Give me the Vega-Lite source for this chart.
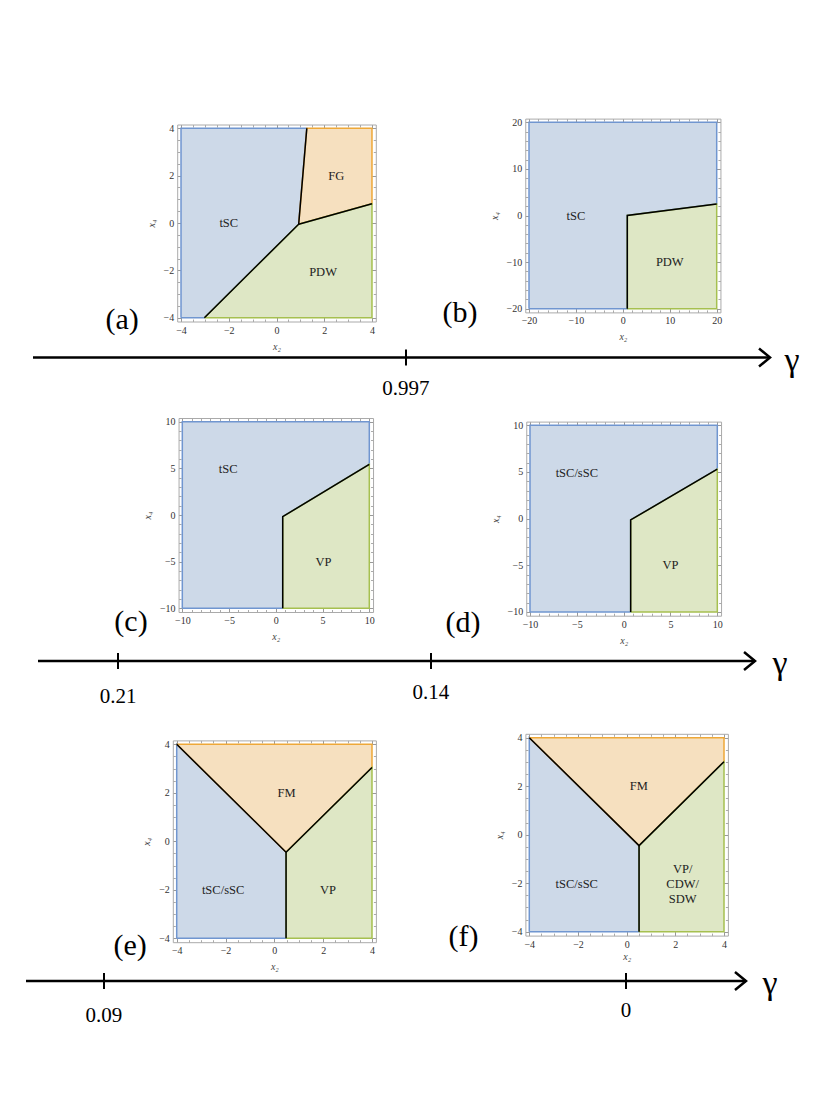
{
"$schema": "https://vega.github.io/schema/vega-lite/v6.json",
"width": 817, "height": 1117, "padding": 0, "autosize": {"type": "none"},
"background": "white",
"config": {"view": {"stroke": null}},
"datasets": {
"regions": [
{"p":"a","k":"blue","o":1,"x":-4,"y":-4},{"p":"a","k":"blue","o":2,"x":-4,"y":4},{"p":"a","k":"blue","o":3,"x":1.27,"y":4},{"p":"a","k":"blue","o":4,"x":0.93,"y":-0.05},{"p":"a","k":"blue","o":5,"x":-3.02,"y":-4},{"p":"a","k":"blue","o":6,"x":-4,"y":-4},
{"p":"a","k":"orange","o":1,"x":0.93,"y":-0.05},{"p":"a","k":"orange","o":2,"x":1.27,"y":4},{"p":"a","k":"orange","o":3,"x":4,"y":4},{"p":"a","k":"orange","o":4,"x":4,"y":0.81},{"p":"a","k":"orange","o":5,"x":0.93,"y":-0.05},
{"p":"a","k":"green","o":1,"x":-3.02,"y":-4},{"p":"a","k":"green","o":2,"x":0.93,"y":-0.05},{"p":"a","k":"green","o":3,"x":4,"y":0.81},{"p":"a","k":"green","o":4,"x":4,"y":-4},{"p":"a","k":"green","o":5,"x":-3.02,"y":-4},
{"p":"b","k":"blue","o":1,"x":-20,"y":-20},{"p":"b","k":"blue","o":2,"x":-20,"y":20},{"p":"b","k":"blue","o":3,"x":20,"y":20},{"p":"b","k":"blue","o":4,"x":20,"y":2.47},{"p":"b","k":"blue","o":5,"x":0.95,"y":0},{"p":"b","k":"blue","o":6,"x":0.95,"y":-20},{"p":"b","k":"blue","o":7,"x":-20,"y":-20},
{"p":"b","k":"green","o":1,"x":0.95,"y":-20},{"p":"b","k":"green","o":2,"x":0.95,"y":0},{"p":"b","k":"green","o":3,"x":20,"y":2.47},{"p":"b","k":"green","o":4,"x":20,"y":-20},{"p":"b","k":"green","o":5,"x":0.95,"y":-20},
{"p":"c","k":"blue","o":1,"x":-10,"y":-10},{"p":"c","k":"blue","o":2,"x":-10,"y":10},{"p":"c","k":"blue","o":3,"x":10,"y":10},{"p":"c","k":"blue","o":4,"x":10,"y":5.43},{"p":"c","k":"blue","o":5,"x":0.74,"y":-0.18},{"p":"c","k":"blue","o":6,"x":0.74,"y":-10},{"p":"c","k":"blue","o":7,"x":-10,"y":-10},
{"p":"c","k":"green","o":1,"x":0.74,"y":-10},{"p":"c","k":"green","o":2,"x":0.74,"y":-0.18},{"p":"c","k":"green","o":3,"x":10,"y":5.43},{"p":"c","k":"green","o":4,"x":10,"y":-10},{"p":"c","k":"green","o":5,"x":0.74,"y":-10},
{"p":"d","k":"blue","o":1,"x":-10,"y":-10},{"p":"d","k":"blue","o":2,"x":-10,"y":10},{"p":"d","k":"blue","o":3,"x":10,"y":10},{"p":"d","k":"blue","o":4,"x":10,"y":5.3},{"p":"d","k":"blue","o":5,"x":0.75,"y":-0.14},{"p":"d","k":"blue","o":6,"x":0.75,"y":-10},{"p":"d","k":"blue","o":7,"x":-10,"y":-10},
{"p":"d","k":"green","o":1,"x":0.75,"y":-10},{"p":"d","k":"green","o":2,"x":0.75,"y":-0.14},{"p":"d","k":"green","o":3,"x":10,"y":5.3},{"p":"d","k":"green","o":4,"x":10,"y":-10},{"p":"d","k":"green","o":5,"x":0.75,"y":-10},
{"p":"e","k":"blue","o":1,"x":-4,"y":-4},{"p":"e","k":"blue","o":2,"x":-4,"y":4},{"p":"e","k":"blue","o":3,"x":0.48,"y":-0.45},{"p":"e","k":"blue","o":4,"x":0.48,"y":-4},{"p":"e","k":"blue","o":5,"x":-4,"y":-4},
{"p":"e","k":"orange","o":1,"x":-4,"y":4},{"p":"e","k":"orange","o":2,"x":4,"y":4},{"p":"e","k":"orange","o":3,"x":4,"y":3.04},{"p":"e","k":"orange","o":4,"x":0.48,"y":-0.45},{"p":"e","k":"orange","o":5,"x":-4,"y":4},
{"p":"e","k":"green","o":1,"x":0.48,"y":-4},{"p":"e","k":"green","o":2,"x":0.48,"y":-0.45},{"p":"e","k":"green","o":3,"x":4,"y":3.04},{"p":"e","k":"green","o":4,"x":4,"y":-4},{"p":"e","k":"green","o":5,"x":0.48,"y":-4},
{"p":"f","k":"blue","o":1,"x":-4,"y":-4},{"p":"f","k":"blue","o":2,"x":-4,"y":4},{"p":"f","k":"blue","o":3,"x":0.51,"y":-0.45},{"p":"f","k":"blue","o":4,"x":0.51,"y":-4},{"p":"f","k":"blue","o":5,"x":-4,"y":-4},
{"p":"f","k":"orange","o":1,"x":-4,"y":4},{"p":"f","k":"orange","o":2,"x":4,"y":4},{"p":"f","k":"orange","o":3,"x":4,"y":3.01},{"p":"f","k":"orange","o":4,"x":0.51,"y":-0.45},{"p":"f","k":"orange","o":5,"x":-4,"y":4},
{"p":"f","k":"green","o":1,"x":0.51,"y":-4},{"p":"f","k":"green","o":2,"x":0.51,"y":-0.45},{"p":"f","k":"green","o":3,"x":4,"y":3.01},{"p":"f","k":"green","o":4,"x":4,"y":-4},{"p":"f","k":"green","o":5,"x":0.51,"y":-4}
],
"bounds": [
{"p":"a","s":1,"o":1,"x":1.27,"y":4},{"p":"a","s":1,"o":2,"x":0.93,"y":-0.05},{"p":"a","s":1,"o":3,"x":-3.02,"y":-4},{"p":"a","s":2,"o":1,"x":0.93,"y":-0.05},{"p":"a","s":2,"o":2,"x":4,"y":0.81},
{"p":"b","s":1,"o":1,"x":0.95,"y":-20},{"p":"b","s":1,"o":2,"x":0.95,"y":0},{"p":"b","s":1,"o":3,"x":20,"y":2.47},
{"p":"c","s":1,"o":1,"x":0.74,"y":-10},{"p":"c","s":1,"o":2,"x":0.74,"y":-0.18},{"p":"c","s":1,"o":3,"x":10,"y":5.43},
{"p":"d","s":1,"o":1,"x":0.75,"y":-10},{"p":"d","s":1,"o":2,"x":0.75,"y":-0.14},{"p":"d","s":1,"o":3,"x":10,"y":5.3},
{"p":"e","s":1,"o":1,"x":-4,"y":4},{"p":"e","s":1,"o":2,"x":0.48,"y":-0.45},{"p":"e","s":1,"o":3,"x":4,"y":3.04},{"p":"e","s":2,"o":1,"x":0.48,"y":-0.45},{"p":"e","s":2,"o":2,"x":0.48,"y":-4},
{"p":"f","s":1,"o":1,"x":-4,"y":4},{"p":"f","s":1,"o":2,"x":0.51,"y":-0.45},{"p":"f","s":1,"o":3,"x":4,"y":3.01},{"p":"f","s":2,"o":1,"x":0.51,"y":-0.45},{"p":"f","s":2,"o":2,"x":0.51,"y":-4}
],
"names": [
{"p":"a","t":"tSC","x":-2.0,"y":0.0},{"p":"a","t":"FG","x":2.5,"y":2.0},{"p":"a","t":"PDW","x":1.95,"y":-2.05},
{"p":"b","t":"tSC","x":-10,"y":0},{"p":"b","t":"PDW","x":10,"y":-10},
{"p":"c","t":"tSC","x":-5.1,"y":4.9},{"p":"c","t":"VP","x":5.1,"y":-5.0},
{"p":"d","t":"tSC/sSC","x":-5,"y":4.9},{"p":"d","t":"VP","x":5,"y":-5},
{"p":"e","t":"FM","x":0.5,"y":2},{"p":"e","t":"tSC/sSC","x":-2.1,"y":-2},{"p":"e","t":"VP","x":2.2,"y":-2},
{"p":"f","t":"FM","x":0.5,"y":2},{"p":"f","t":"tSC/sSC","x":-2.05,"y":-2.05},{"p":"f","t":"VP/","x":2.3,"y":-1.41},{"p":"f","t":"CDW/","x":2.3,"y":-2.05},{"p":"f","t":"SDW","x":2.3,"y":-2.65}
],
"tags": [
{"p":"a","t":"(a)","x":-6.47,"y":-4.1},{"p":"b","t":"(b)","x":-34.7,"y":-20.9},{"p":"c","t":"(c)","x":-15.49,"y":-11.47},
{"p":"d","t":"(d)","x":-17.15,"y":-11.18},{"p":"e","t":"(e)","x":-5.91,"y":-4.32},{"p":"f","t":"(f)","x":-6.7,"y":-4.22}
],
"arrowline": [
{"r":1,"g":"m","o":1,"x":0,"y":0},{"r":1,"g":"m","o":2,"x":1,"y":0},{"r":1,"g":"h","o":1,"x":0.9851,"y":1.125},{"r":1,"g":"h","o":2,"x":1,"y":0},{"r":1,"g":"h","o":3,"x":0.9851,"y":-1.125},
{"r":2,"g":"m","o":1,"x":0,"y":0},{"r":2,"g":"m","o":2,"x":1,"y":0},{"r":2,"g":"h","o":1,"x":0.9847,"y":1.125},{"r":2,"g":"h","o":2,"x":1,"y":0},{"r":2,"g":"h","o":3,"x":0.9847,"y":-1.125},
{"r":3,"g":"m","o":1,"x":0,"y":0},{"r":3,"g":"m","o":2,"x":1,"y":0},{"r":3,"g":"h","o":1,"x":0.9847,"y":1.125},{"r":3,"g":"h","o":2,"x":1,"y":0},{"r":3,"g":"h","o":3,"x":0.9847,"y":-1.125}
],
"ticks": [
{"r":1,"x":0.5061,"a":-1,"b":1},
{"r":2,"x":0.1116,"a":-1,"b":1},{"r":2,"x":0.5481,"a":-1,"b":1},
{"r":3,"x":0.1083,"a":-1,"b":1},{"r":3,"x":0.8333,"a":-1,"b":1}
],
"ticklabels": [
{"r":1,"t":"0.997","x":0.5061,"y":-3.94},
{"r":2,"t":"0.21","x":0.1116,"y":-4.5},{"r":2,"t":"0.14","x":0.5481,"y":-4.0},
{"r":3,"t":"0.09","x":0.1083,"y":-4.375},{"r":3,"t":"0","x":0.8333,"y":-3.75}
],
"gammas": [
{"r":1,"t":"γ","x":1.0299,"y":-0.45},{"r":2,"t":"γ","x":1.0349,"y":-0.4},{"r":3,"t":"γ","x":1.0333,"y":-0.4}
]
},
"layer": [
{
"layer": [
{"data":{"name":"regions"},"transform":[{"filter":"datum.p === 'a'"}],
"mark":{"type":"line","strokeWidth":1.5,"strokeJoin":"miter"},
"encoding":{
"x":{"field":"x","type":"quantitative","scale":{"domain":[-4.16,4.16],"range":[177.2,375.8],"nice":false,"zero":false},
"axis":{"orient":"bottom","offset":-795.5,"values":[-4,-2,0,2,4],"grid":false,"domainColor":"#aaaaaa","domainWidth":1,"tickColor":"#999999","tickSize":-4,"tickWidth":1,"labelFont":"Times New Roman, Liberation Serif, serif","labelFontSize":10,"labelColor":"#333333","labelPadding":7.5,"labelFlush":false,"labelOverlap":false,"labelBound":false,"title":"x₂","titleFont":"Times New Roman, Liberation Serif, serif","titleFontSize":10,"titleFontStyle":"italic","titleFontWeight":"normal","titleColor":"#444444","titlePadding":6}},
"y":{"field":"y","type":"quantitative","scale":{"domain":[-4.16,4.16],"range":[321.5,124.5],"nice":false,"zero":false},
"axis":{"orient":"left","offset":-177.2,"values":[-4,-2,0,2,4],"grid":false,"domainColor":"#aaaaaa","domainWidth":1,"tickColor":"#999999","tickSize":-4,"tickWidth":1,"labelFont":"Times New Roman, Liberation Serif, serif","labelFontSize":10,"labelColor":"#333333","labelPadding":7.5,"labelFlush":false,"labelOverlap":false,"labelBound":false,"title":"x₄","titleFont":"Times New Roman, Liberation Serif, serif","titleFontSize":10,"titleFontStyle":"italic","titleFontWeight":"normal","titleColor":"#444444","titlePadding":7}},
"order":{"field":"o","type":"quantitative"},"detail":{"field":"k"},
"fill":{"field":"k","type":"nominal","scale":{"domain":["blue","orange","green"],"range":["#cdd9e8","#f6e0bf","#dee7c5"]},"legend":null},
"stroke":{"field":"k","type":"nominal","scale":{"domain":["blue","orange","green"],"range":["#7096d0","#eea838","#a6c050"]},"legend":null}}},
{"data":{"name":"bounds"},"transform":[{"filter":"datum.p === 'a'"}],
"mark":{"type":"line","color":"black","strokeWidth":1.5},
"encoding":{
"x":{"field":"x","type":"quantitative","scale":{"domain":[-4.16,4.16],"range":[177.2,375.8],"nice":false,"zero":false},
"axis":{"orient":"top","offset":-124.5,"values":[-4,-2,0,2,4],"labels":false,"title":null,"grid":false,"domainColor":"#aaaaaa","tickColor":"#999999","tickSize":-4}},
"y":{"field":"y","type":"quantitative","scale":{"domain":[-4.16,4.16],"range":[321.5,124.5],"nice":false,"zero":false},
"axis":{"orient":"right","offset":-441.2,"values":[-4,-2,0,2,4],"labels":false,"title":null,"grid":false,"domainColor":"#aaaaaa","tickColor":"#999999","tickSize":-4}},
"order":{"field":"o","type":"quantitative"},"detail":{"field":"s"}}},
{"data":{"name":"names"},"transform":[{"filter":"datum.p === 'a'"}],
"mark":{"type":"text","font":"Times New Roman, Liberation Serif, serif","fontSize":12.5,"color":"#222222","align":"center","baseline":"middle"},
"encoding":{
"x":{"field":"x","type":"quantitative","scale":{"domain":[-4.16,4.16],"range":[177.2,375.8],"nice":false,"zero":false},
"axis":{"orient":"bottom","offset":-795.5,"values":[-3.5,-3,-2.5,-1.5,-1,-0.5,0.5,1,1.5,2.5,3,3.5],"labels":false,"domain":false,"title":null,"grid":false,"tickColor":"#aaaaaa","tickSize":-2.5}},
"y":{"field":"y","type":"quantitative","scale":{"domain":[-4.16,4.16],"range":[321.5,124.5],"nice":false,"zero":false},
"axis":{"orient":"left","offset":-177.2,"values":[-3.5,-3,-2.5,-1.5,-1,-0.5,0.5,1,1.5,2.5,3,3.5],"labels":false,"domain":false,"title":null,"grid":false,"tickColor":"#aaaaaa","tickSize":-2.5}},
"text":{"field":"t"}}},
{"data":{"name":"tags"},"transform":[{"filter":"datum.p === 'a'"}],
"mark":{"type":"text","font":"Times New Roman, Liberation Serif, serif","fontSize":30,"color":"black","align":"center","baseline":"middle"},
"encoding":{
"x":{"field":"x","type":"quantitative","scale":{"domain":[-4.16,4.16],"range":[177.2,375.8],"nice":false,"zero":false},
"axis":{"orient":"top","offset":-124.5,"values":[-3.5,-3,-2.5,-1.5,-1,-0.5,0.5,1,1.5,2.5,3,3.5],"labels":false,"domain":false,"title":null,"grid":false,"tickColor":"#aaaaaa","tickSize":-2.5}},
"y":{"field":"y","type":"quantitative","scale":{"domain":[-4.16,4.16],"range":[321.5,124.5],"nice":false,"zero":false},
"axis":{"orient":"right","offset":-441.2,"values":[-3.5,-3,-2.5,-1.5,-1,-0.5,0.5,1,1.5,2.5,3,3.5],"labels":false,"domain":false,"title":null,"grid":false,"tickColor":"#aaaaaa","tickSize":-2.5}},
"text":{"field":"t"}}}
],
"resolve":{"axis":{"x":"independent","y":"independent"}}
},
{
"layer": [
{"data":{"name":"regions"},"transform":[{"filter":"datum.p === 'b'"}],
"mark":{"type":"line","strokeWidth":1.5,"strokeJoin":"miter"},
"encoding":{
"x":{"field":"x","type":"quantitative","scale":{"domain":[-20.8,20.8],"range":[525.25,720.45],"nice":false,"zero":false},
"axis":{"orient":"bottom","offset":-804.6,"values":[-20,-10,0,10,20],"grid":false,"domainColor":"#aaaaaa","domainWidth":1,"tickColor":"#999999","tickSize":-4,"tickWidth":1,"labelFont":"Times New Roman, Liberation Serif, serif","labelFontSize":10,"labelColor":"#333333","labelPadding":7.5,"labelFlush":false,"labelOverlap":false,"labelBound":false,"title":"x₂","titleFont":"Times New Roman, Liberation Serif, serif","titleFontSize":10,"titleFontStyle":"italic","titleFontWeight":"normal","titleColor":"#444444","titlePadding":6}},
"y":{"field":"y","type":"quantitative","scale":{"domain":[-20.8,20.8],"range":[312.4,118.6],"nice":false,"zero":false},
"axis":{"orient":"left","offset":-525.25,"values":[-20,-10,0,10,20],"grid":false,"domainColor":"#aaaaaa","domainWidth":1,"tickColor":"#999999","tickSize":-4,"tickWidth":1,"labelFont":"Times New Roman, Liberation Serif, serif","labelFontSize":10,"labelColor":"#333333","labelPadding":7.5,"labelFlush":false,"labelOverlap":false,"labelBound":false,"title":"x₄","titleFont":"Times New Roman, Liberation Serif, serif","titleFontSize":10,"titleFontStyle":"italic","titleFontWeight":"normal","titleColor":"#444444","titlePadding":7}},
"order":{"field":"o","type":"quantitative"},"detail":{"field":"k"},
"fill":{"field":"k","type":"nominal","scale":{"domain":["blue","orange","green"],"range":["#cdd9e8","#f6e0bf","#dee7c5"]},"legend":null},
"stroke":{"field":"k","type":"nominal","scale":{"domain":["blue","orange","green"],"range":["#7096d0","#eea838","#a6c050"]},"legend":null}}},
{"data":{"name":"bounds"},"transform":[{"filter":"datum.p === 'b'"}],
"mark":{"type":"line","color":"black","strokeWidth":1.5},
"encoding":{
"x":{"field":"x","type":"quantitative","scale":{"domain":[-20.8,20.8],"range":[525.25,720.45],"nice":false,"zero":false},
"axis":{"orient":"top","offset":-118.6,"values":[-20,-10,0,10,20],"labels":false,"title":null,"grid":false,"domainColor":"#aaaaaa","tickColor":"#999999","tickSize":-4}},
"y":{"field":"y","type":"quantitative","scale":{"domain":[-20.8,20.8],"range":[312.4,118.6],"nice":false,"zero":false},
"axis":{"orient":"right","offset":-96.55,"values":[-20,-10,0,10,20],"labels":false,"title":null,"grid":false,"domainColor":"#aaaaaa","tickColor":"#999999","tickSize":-4}},
"order":{"field":"o","type":"quantitative"},"detail":{"field":"s"}}},
{"data":{"name":"names"},"transform":[{"filter":"datum.p === 'b'"}],
"mark":{"type":"text","font":"Times New Roman, Liberation Serif, serif","fontSize":12.5,"color":"#222222","align":"center","baseline":"middle"},
"encoding":{
"x":{"field":"x","type":"quantitative","scale":{"domain":[-20.8,20.8],"range":[525.25,720.45],"nice":false,"zero":false},
"axis":{"orient":"bottom","offset":-804.6,"values":[-18,-16,-14,-12,-8,-6,-4,-2,2,4,6,8,12,14,16,18],"labels":false,"domain":false,"title":null,"grid":false,"tickColor":"#aaaaaa","tickSize":-2.5}},
"y":{"field":"y","type":"quantitative","scale":{"domain":[-20.8,20.8],"range":[312.4,118.6],"nice":false,"zero":false},
"axis":{"orient":"left","offset":-525.25,"values":[-18,-16,-14,-12,-8,-6,-4,-2,2,4,6,8,12,14,16,18],"labels":false,"domain":false,"title":null,"grid":false,"tickColor":"#aaaaaa","tickSize":-2.5}},
"text":{"field":"t"}}},
{"data":{"name":"tags"},"transform":[{"filter":"datum.p === 'b'"}],
"mark":{"type":"text","font":"Times New Roman, Liberation Serif, serif","fontSize":30,"color":"black","align":"center","baseline":"middle"},
"encoding":{
"x":{"field":"x","type":"quantitative","scale":{"domain":[-20.8,20.8],"range":[525.25,720.45],"nice":false,"zero":false},
"axis":{"orient":"top","offset":-118.6,"values":[-18,-16,-14,-12,-8,-6,-4,-2,2,4,6,8,12,14,16,18],"labels":false,"domain":false,"title":null,"grid":false,"tickColor":"#aaaaaa","tickSize":-2.5}},
"y":{"field":"y","type":"quantitative","scale":{"domain":[-20.8,20.8],"range":[312.4,118.6],"nice":false,"zero":false},
"axis":{"orient":"right","offset":-96.55,"values":[-18,-16,-14,-12,-8,-6,-4,-2,2,4,6,8,12,14,16,18],"labels":false,"domain":false,"title":null,"grid":false,"tickColor":"#aaaaaa","tickSize":-2.5}},
"text":{"field":"t"}}}
],
"resolve":{"axis":{"x":"independent","y":"independent"}}
},
{
"layer": [
{"data":{"name":"regions"},"transform":[{"filter":"datum.p === 'c'"}],
"mark":{"type":"line","strokeWidth":1.5,"strokeJoin":"miter"},
"encoding":{
"x":{"field":"x","type":"quantitative","scale":{"domain":[-10.4,10.4],"range":[178.56,373.04],"nice":false,"zero":false},
"axis":{"orient":"bottom","offset":-505,"values":[-10,-5,0,5,10],"grid":false,"domainColor":"#aaaaaa","domainWidth":1,"tickColor":"#999999","tickSize":-4,"tickWidth":1,"labelFont":"Times New Roman, Liberation Serif, serif","labelFontSize":10,"labelColor":"#333333","labelPadding":7.5,"labelFlush":false,"labelOverlap":false,"labelBound":false,"title":"x₂","titleFont":"Times New Roman, Liberation Serif, serif","titleFontSize":10,"titleFontStyle":"italic","titleFontWeight":"normal","titleColor":"#444444","titlePadding":6}},
"y":{"field":"y","type":"quantitative","scale":{"domain":[-10.4,10.4],"range":[612,418],"nice":false,"zero":false},
"axis":{"orient":"left","offset":-178.56,"values":[-10,-5,0,5,10],"grid":false,"domainColor":"#aaaaaa","domainWidth":1,"tickColor":"#999999","tickSize":-4,"tickWidth":1,"labelFont":"Times New Roman, Liberation Serif, serif","labelFontSize":10,"labelColor":"#333333","labelPadding":7.5,"labelFlush":false,"labelOverlap":false,"labelBound":false,"title":"x₄","titleFont":"Times New Roman, Liberation Serif, serif","titleFontSize":10,"titleFontStyle":"italic","titleFontWeight":"normal","titleColor":"#444444","titlePadding":7}},
"order":{"field":"o","type":"quantitative"},"detail":{"field":"k"},
"fill":{"field":"k","type":"nominal","scale":{"domain":["blue","orange","green"],"range":["#cdd9e8","#f6e0bf","#dee7c5"]},"legend":null},
"stroke":{"field":"k","type":"nominal","scale":{"domain":["blue","orange","green"],"range":["#7096d0","#eea838","#a6c050"]},"legend":null}}},
{"data":{"name":"bounds"},"transform":[{"filter":"datum.p === 'c'"}],
"mark":{"type":"line","color":"black","strokeWidth":1.5},
"encoding":{
"x":{"field":"x","type":"quantitative","scale":{"domain":[-10.4,10.4],"range":[178.56,373.04],"nice":false,"zero":false},
"axis":{"orient":"top","offset":-418,"values":[-10,-5,0,5,10],"labels":false,"title":null,"grid":false,"domainColor":"#aaaaaa","tickColor":"#999999","tickSize":-4}},
"y":{"field":"y","type":"quantitative","scale":{"domain":[-10.4,10.4],"range":[612,418],"nice":false,"zero":false},
"axis":{"orient":"right","offset":-443.96,"values":[-10,-5,0,5,10],"labels":false,"title":null,"grid":false,"domainColor":"#aaaaaa","tickColor":"#999999","tickSize":-4}},
"order":{"field":"o","type":"quantitative"},"detail":{"field":"s"}}},
{"data":{"name":"names"},"transform":[{"filter":"datum.p === 'c'"}],
"mark":{"type":"text","font":"Times New Roman, Liberation Serif, serif","fontSize":12.5,"color":"#222222","align":"center","baseline":"middle"},
"encoding":{
"x":{"field":"x","type":"quantitative","scale":{"domain":[-10.4,10.4],"range":[178.56,373.04],"nice":false,"zero":false},
"axis":{"orient":"bottom","offset":-505,"values":[-9,-8,-7,-6,-4,-3,-2,-1,1,2,3,4,6,7,8,9],"labels":false,"domain":false,"title":null,"grid":false,"tickColor":"#aaaaaa","tickSize":-2.5}},
"y":{"field":"y","type":"quantitative","scale":{"domain":[-10.4,10.4],"range":[612,418],"nice":false,"zero":false},
"axis":{"orient":"left","offset":-178.56,"values":[-9,-8,-7,-6,-4,-3,-2,-1,1,2,3,4,6,7,8,9],"labels":false,"domain":false,"title":null,"grid":false,"tickColor":"#aaaaaa","tickSize":-2.5}},
"text":{"field":"t"}}},
{"data":{"name":"tags"},"transform":[{"filter":"datum.p === 'c'"}],
"mark":{"type":"text","font":"Times New Roman, Liberation Serif, serif","fontSize":30,"color":"black","align":"center","baseline":"middle"},
"encoding":{
"x":{"field":"x","type":"quantitative","scale":{"domain":[-10.4,10.4],"range":[178.56,373.04],"nice":false,"zero":false},
"axis":{"orient":"top","offset":-418,"values":[-9,-8,-7,-6,-4,-3,-2,-1,1,2,3,4,6,7,8,9],"labels":false,"domain":false,"title":null,"grid":false,"tickColor":"#aaaaaa","tickSize":-2.5}},
"y":{"field":"y","type":"quantitative","scale":{"domain":[-10.4,10.4],"range":[612,418],"nice":false,"zero":false},
"axis":{"orient":"right","offset":-443.96,"values":[-9,-8,-7,-6,-4,-3,-2,-1,1,2,3,4,6,7,8,9],"labels":false,"domain":false,"title":null,"grid":false,"tickColor":"#aaaaaa","tickSize":-2.5}},
"text":{"field":"t"}}}
],
"resolve":{"axis":{"x":"independent","y":"independent"}}
},
{
"layer": [
{"data":{"name":"regions"},"transform":[{"filter":"datum.p === 'd'"}],
"mark":{"type":"line","strokeWidth":1.5,"strokeJoin":"miter"},
"encoding":{
"x":{"field":"x","type":"quantitative","scale":{"domain":[-10.4,10.4],"range":[526.25,721.05],"nice":false,"zero":false},
"axis":{"orient":"bottom","offset":-501.3,"values":[-10,-5,0,5,10],"grid":false,"domainColor":"#aaaaaa","domainWidth":1,"tickColor":"#999999","tickSize":-4,"tickWidth":1,"labelFont":"Times New Roman, Liberation Serif, serif","labelFontSize":10,"labelColor":"#333333","labelPadding":7.5,"labelFlush":false,"labelOverlap":false,"labelBound":false,"title":"x₂","titleFont":"Times New Roman, Liberation Serif, serif","titleFontSize":10,"titleFontStyle":"italic","titleFontWeight":"normal","titleColor":"#444444","titlePadding":6}},
"y":{"field":"y","type":"quantitative","scale":{"domain":[-10.4,10.4],"range":[615.7,421.6],"nice":false,"zero":false},
"axis":{"orient":"left","offset":-526.25,"values":[-10,-5,0,5,10],"grid":false,"domainColor":"#aaaaaa","domainWidth":1,"tickColor":"#999999","tickSize":-4,"tickWidth":1,"labelFont":"Times New Roman, Liberation Serif, serif","labelFontSize":10,"labelColor":"#333333","labelPadding":7.5,"labelFlush":false,"labelOverlap":false,"labelBound":false,"title":"x₄","titleFont":"Times New Roman, Liberation Serif, serif","titleFontSize":10,"titleFontStyle":"italic","titleFontWeight":"normal","titleColor":"#444444","titlePadding":7}},
"order":{"field":"o","type":"quantitative"},"detail":{"field":"k"},
"fill":{"field":"k","type":"nominal","scale":{"domain":["blue","orange","green"],"range":["#cdd9e8","#f6e0bf","#dee7c5"]},"legend":null},
"stroke":{"field":"k","type":"nominal","scale":{"domain":["blue","orange","green"],"range":["#7096d0","#eea838","#a6c050"]},"legend":null}}},
{"data":{"name":"bounds"},"transform":[{"filter":"datum.p === 'd'"}],
"mark":{"type":"line","color":"black","strokeWidth":1.5},
"encoding":{
"x":{"field":"x","type":"quantitative","scale":{"domain":[-10.4,10.4],"range":[526.25,721.05],"nice":false,"zero":false},
"axis":{"orient":"top","offset":-421.6,"values":[-10,-5,0,5,10],"labels":false,"title":null,"grid":false,"domainColor":"#aaaaaa","tickColor":"#999999","tickSize":-4}},
"y":{"field":"y","type":"quantitative","scale":{"domain":[-10.4,10.4],"range":[615.7,421.6],"nice":false,"zero":false},
"axis":{"orient":"right","offset":-95.95,"values":[-10,-5,0,5,10],"labels":false,"title":null,"grid":false,"domainColor":"#aaaaaa","tickColor":"#999999","tickSize":-4}},
"order":{"field":"o","type":"quantitative"},"detail":{"field":"s"}}},
{"data":{"name":"names"},"transform":[{"filter":"datum.p === 'd'"}],
"mark":{"type":"text","font":"Times New Roman, Liberation Serif, serif","fontSize":12.5,"color":"#222222","align":"center","baseline":"middle"},
"encoding":{
"x":{"field":"x","type":"quantitative","scale":{"domain":[-10.4,10.4],"range":[526.25,721.05],"nice":false,"zero":false},
"axis":{"orient":"bottom","offset":-501.3,"values":[-9,-8,-7,-6,-4,-3,-2,-1,1,2,3,4,6,7,8,9],"labels":false,"domain":false,"title":null,"grid":false,"tickColor":"#aaaaaa","tickSize":-2.5}},
"y":{"field":"y","type":"quantitative","scale":{"domain":[-10.4,10.4],"range":[615.7,421.6],"nice":false,"zero":false},
"axis":{"orient":"left","offset":-526.25,"values":[-9,-8,-7,-6,-4,-3,-2,-1,1,2,3,4,6,7,8,9],"labels":false,"domain":false,"title":null,"grid":false,"tickColor":"#aaaaaa","tickSize":-2.5}},
"text":{"field":"t"}}},
{"data":{"name":"tags"},"transform":[{"filter":"datum.p === 'd'"}],
"mark":{"type":"text","font":"Times New Roman, Liberation Serif, serif","fontSize":30,"color":"black","align":"center","baseline":"middle"},
"encoding":{
"x":{"field":"x","type":"quantitative","scale":{"domain":[-10.4,10.4],"range":[526.25,721.05],"nice":false,"zero":false},
"axis":{"orient":"top","offset":-421.6,"values":[-9,-8,-7,-6,-4,-3,-2,-1,1,2,3,4,6,7,8,9],"labels":false,"domain":false,"title":null,"grid":false,"tickColor":"#aaaaaa","tickSize":-2.5}},
"y":{"field":"y","type":"quantitative","scale":{"domain":[-10.4,10.4],"range":[615.7,421.6],"nice":false,"zero":false},
"axis":{"orient":"right","offset":-95.95,"values":[-9,-8,-7,-6,-4,-3,-2,-1,1,2,3,4,6,7,8,9],"labels":false,"domain":false,"title":null,"grid":false,"tickColor":"#aaaaaa","tickSize":-2.5}},
"text":{"field":"t"}}}
],
"resolve":{"axis":{"x":"independent","y":"independent"}}
},
{
"layer": [
{"data":{"name":"regions"},"transform":[{"filter":"datum.p === 'e'"}],
"mark":{"type":"line","strokeWidth":1.5,"strokeJoin":"miter"},
"encoding":{
"x":{"field":"x","type":"quantitative","scale":{"domain":[-4.16,4.16],"range":[172.8,375.9],"nice":false,"zero":false},
"axis":{"orient":"bottom","offset":-174.8,"values":[-4,-2,0,2,4],"grid":false,"domainColor":"#aaaaaa","domainWidth":1,"tickColor":"#999999","tickSize":-4,"tickWidth":1,"labelFont":"Times New Roman, Liberation Serif, serif","labelFontSize":10,"labelColor":"#333333","labelPadding":7.5,"labelFlush":false,"labelOverlap":false,"labelBound":false,"title":"x₂","titleFont":"Times New Roman, Liberation Serif, serif","titleFontSize":10,"titleFontStyle":"italic","titleFontWeight":"normal","titleColor":"#444444","titlePadding":6}},
"y":{"field":"y","type":"quantitative","scale":{"domain":[-4.16,4.16],"range":[942.2,740.4],"nice":false,"zero":false},
"axis":{"orient":"left","offset":-172.8,"values":[-4,-2,0,2,4],"grid":false,"domainColor":"#aaaaaa","domainWidth":1,"tickColor":"#999999","tickSize":-4,"tickWidth":1,"labelFont":"Times New Roman, Liberation Serif, serif","labelFontSize":10,"labelColor":"#333333","labelPadding":7.5,"labelFlush":false,"labelOverlap":false,"labelBound":false,"title":"x₄","titleFont":"Times New Roman, Liberation Serif, serif","titleFontSize":10,"titleFontStyle":"italic","titleFontWeight":"normal","titleColor":"#444444","titlePadding":7}},
"order":{"field":"o","type":"quantitative"},"detail":{"field":"k"},
"fill":{"field":"k","type":"nominal","scale":{"domain":["blue","orange","green"],"range":["#cdd9e8","#f6e0bf","#dee7c5"]},"legend":null},
"stroke":{"field":"k","type":"nominal","scale":{"domain":["blue","orange","green"],"range":["#7096d0","#eea838","#a6c050"]},"legend":null}}},
{"data":{"name":"bounds"},"transform":[{"filter":"datum.p === 'e'"}],
"mark":{"type":"line","color":"black","strokeWidth":1.5},
"encoding":{
"x":{"field":"x","type":"quantitative","scale":{"domain":[-4.16,4.16],"range":[172.8,375.9],"nice":false,"zero":false},
"axis":{"orient":"top","offset":-740.4,"values":[-4,-2,0,2,4],"labels":false,"title":null,"grid":false,"domainColor":"#aaaaaa","tickColor":"#999999","tickSize":-4}},
"y":{"field":"y","type":"quantitative","scale":{"domain":[-4.16,4.16],"range":[942.2,740.4],"nice":false,"zero":false},
"axis":{"orient":"right","offset":-441.1,"values":[-4,-2,0,2,4],"labels":false,"title":null,"grid":false,"domainColor":"#aaaaaa","tickColor":"#999999","tickSize":-4}},
"order":{"field":"o","type":"quantitative"},"detail":{"field":"s"}}},
{"data":{"name":"names"},"transform":[{"filter":"datum.p === 'e'"}],
"mark":{"type":"text","font":"Times New Roman, Liberation Serif, serif","fontSize":12.5,"color":"#222222","align":"center","baseline":"middle"},
"encoding":{
"x":{"field":"x","type":"quantitative","scale":{"domain":[-4.16,4.16],"range":[172.8,375.9],"nice":false,"zero":false},
"axis":{"orient":"bottom","offset":-174.8,"values":[-3.5,-3,-2.5,-1.5,-1,-0.5,0.5,1,1.5,2.5,3,3.5],"labels":false,"domain":false,"title":null,"grid":false,"tickColor":"#aaaaaa","tickSize":-2.5}},
"y":{"field":"y","type":"quantitative","scale":{"domain":[-4.16,4.16],"range":[942.2,740.4],"nice":false,"zero":false},
"axis":{"orient":"left","offset":-172.8,"values":[-3.5,-3,-2.5,-1.5,-1,-0.5,0.5,1,1.5,2.5,3,3.5],"labels":false,"domain":false,"title":null,"grid":false,"tickColor":"#aaaaaa","tickSize":-2.5}},
"text":{"field":"t"}}},
{"data":{"name":"tags"},"transform":[{"filter":"datum.p === 'e'"}],
"mark":{"type":"text","font":"Times New Roman, Liberation Serif, serif","fontSize":30,"color":"black","align":"center","baseline":"middle"},
"encoding":{
"x":{"field":"x","type":"quantitative","scale":{"domain":[-4.16,4.16],"range":[172.8,375.9],"nice":false,"zero":false},
"axis":{"orient":"top","offset":-740.4,"values":[-3.5,-3,-2.5,-1.5,-1,-0.5,0.5,1,1.5,2.5,3,3.5],"labels":false,"domain":false,"title":null,"grid":false,"tickColor":"#aaaaaa","tickSize":-2.5}},
"y":{"field":"y","type":"quantitative","scale":{"domain":[-4.16,4.16],"range":[942.2,740.4],"nice":false,"zero":false},
"axis":{"orient":"right","offset":-441.1,"values":[-3.5,-3,-2.5,-1.5,-1,-0.5,0.5,1,1.5,2.5,3,3.5],"labels":false,"domain":false,"title":null,"grid":false,"tickColor":"#aaaaaa","tickSize":-2.5}},
"text":{"field":"t"}}}
],
"resolve":{"axis":{"x":"independent","y":"independent"}}
},
{
"layer": [
{"data":{"name":"regions"},"transform":[{"filter":"datum.p === 'f'"}],
"mark":{"type":"line","strokeWidth":1.5,"strokeJoin":"miter"},
"encoding":{
"x":{"field":"x","type":"quantitative","scale":{"domain":[-4.16,4.16],"range":[525.4,727.9],"nice":false,"zero":false},
"axis":{"orient":"bottom","offset":-181.4,"values":[-4,-2,0,2,4],"grid":false,"domainColor":"#aaaaaa","domainWidth":1,"tickColor":"#999999","tickSize":-4,"tickWidth":1,"labelFont":"Times New Roman, Liberation Serif, serif","labelFontSize":10,"labelColor":"#333333","labelPadding":7.5,"labelFlush":false,"labelOverlap":false,"labelBound":false,"title":"x₂","titleFont":"Times New Roman, Liberation Serif, serif","titleFontSize":10,"titleFontStyle":"italic","titleFontWeight":"normal","titleColor":"#444444","titlePadding":2}},
"y":{"field":"y","type":"quantitative","scale":{"domain":[-4.16,4.16],"range":[935.6,733.8],"nice":false,"zero":false},
"axis":{"orient":"left","offset":-525.4,"values":[-4,-2,0,2,4],"grid":false,"domainColor":"#aaaaaa","domainWidth":1,"tickColor":"#999999","tickSize":-4,"tickWidth":1,"labelFont":"Times New Roman, Liberation Serif, serif","labelFontSize":10,"labelColor":"#333333","labelPadding":7.5,"labelFlush":false,"labelOverlap":false,"labelBound":false,"title":"x₄","titleFont":"Times New Roman, Liberation Serif, serif","titleFontSize":10,"titleFontStyle":"italic","titleFontWeight":"normal","titleColor":"#444444","titlePadding":7}},
"order":{"field":"o","type":"quantitative"},"detail":{"field":"k"},
"fill":{"field":"k","type":"nominal","scale":{"domain":["blue","orange","green"],"range":["#cdd9e8","#f6e0bf","#dee7c5"]},"legend":null},
"stroke":{"field":"k","type":"nominal","scale":{"domain":["blue","orange","green"],"range":["#7096d0","#eea838","#a6c050"]},"legend":null}}},
{"data":{"name":"bounds"},"transform":[{"filter":"datum.p === 'f'"}],
"mark":{"type":"line","color":"black","strokeWidth":1.5},
"encoding":{
"x":{"field":"x","type":"quantitative","scale":{"domain":[-4.16,4.16],"range":[525.4,727.9],"nice":false,"zero":false},
"axis":{"orient":"top","offset":-733.8,"values":[-4,-2,0,2,4],"labels":false,"title":null,"grid":false,"domainColor":"#aaaaaa","tickColor":"#999999","tickSize":-4}},
"y":{"field":"y","type":"quantitative","scale":{"domain":[-4.16,4.16],"range":[935.6,733.8],"nice":false,"zero":false},
"axis":{"orient":"right","offset":-89.1,"values":[-4,-2,0,2,4],"labels":false,"title":null,"grid":false,"domainColor":"#aaaaaa","tickColor":"#999999","tickSize":-4}},
"order":{"field":"o","type":"quantitative"},"detail":{"field":"s"}}},
{"data":{"name":"names"},"transform":[{"filter":"datum.p === 'f'"}],
"mark":{"type":"text","font":"Times New Roman, Liberation Serif, serif","fontSize":12.5,"color":"#222222","align":"center","baseline":"middle"},
"encoding":{
"x":{"field":"x","type":"quantitative","scale":{"domain":[-4.16,4.16],"range":[525.4,727.9],"nice":false,"zero":false},
"axis":{"orient":"bottom","offset":-181.4,"values":[-3.5,-3,-2.5,-1.5,-1,-0.5,0.5,1,1.5,2.5,3,3.5],"labels":false,"domain":false,"title":null,"grid":false,"tickColor":"#aaaaaa","tickSize":-2.5}},
"y":{"field":"y","type":"quantitative","scale":{"domain":[-4.16,4.16],"range":[935.6,733.8],"nice":false,"zero":false},
"axis":{"orient":"left","offset":-525.4,"values":[-3.5,-3,-2.5,-1.5,-1,-0.5,0.5,1,1.5,2.5,3,3.5],"labels":false,"domain":false,"title":null,"grid":false,"tickColor":"#aaaaaa","tickSize":-2.5}},
"text":{"field":"t"}}},
{"data":{"name":"tags"},"transform":[{"filter":"datum.p === 'f'"}],
"mark":{"type":"text","font":"Times New Roman, Liberation Serif, serif","fontSize":30,"color":"black","align":"center","baseline":"middle"},
"encoding":{
"x":{"field":"x","type":"quantitative","scale":{"domain":[-4.16,4.16],"range":[525.4,727.9],"nice":false,"zero":false},
"axis":{"orient":"top","offset":-733.8,"values":[-3.5,-3,-2.5,-1.5,-1,-0.5,0.5,1,1.5,2.5,3,3.5],"labels":false,"domain":false,"title":null,"grid":false,"tickColor":"#aaaaaa","tickSize":-2.5}},
"y":{"field":"y","type":"quantitative","scale":{"domain":[-4.16,4.16],"range":[935.6,733.8],"nice":false,"zero":false},
"axis":{"orient":"right","offset":-89.1,"values":[-3.5,-3,-2.5,-1.5,-1,-0.5,0.5,1,1.5,2.5,3,3.5],"labels":false,"domain":false,"title":null,"grid":false,"tickColor":"#aaaaaa","tickSize":-2.5}},
"text":{"field":"t"}}}
],
"resolve":{"axis":{"x":"independent","y":"independent"}}
},
{
"layer": [
{"data":{"name":"arrowline"},"transform":[{"filter":"datum.r === 1"}],
"mark":{"type":"line","color":"black","strokeWidth":2.5,"strokeCap":"butt","strokeJoin":"miter"},
"encoding":{"x":{"field":"x","type":"quantitative","scale":{"domain":[0,1],"range":[33,770],"nice":false,"zero":false},"axis":null},
"y":{"field":"y","type":"quantitative","scale":{"domain":[-1,1],"range":[365.5,349.5],"nice":false,"zero":false},"axis":null},
"order":{"field":"o","type":"quantitative"},"detail":{"field":"g"}}},
{"data":{"name":"ticks"},"transform":[{"filter":"datum.r === 1"}],
"mark":{"type":"rule","color":"black","strokeWidth":2},
"encoding":{"x":{"field":"x","type":"quantitative","scale":{"domain":[0,1],"range":[33,770],"nice":false,"zero":false},"axis":null},
"y":{"field":"a","type":"quantitative","scale":{"domain":[-1,1],"range":[365.5,349.5],"nice":false,"zero":false},"axis":null},
"y2":{"field":"b"}}},
{"data":{"name":"ticklabels"},"transform":[{"filter":"datum.r === 1"}],
"mark":{"type":"text","font":"Times New Roman, Liberation Serif, serif","fontSize":21,"color":"black","align":"center","baseline":"middle"},
"encoding":{"x":{"field":"x","type":"quantitative","scale":{"domain":[0,1],"range":[33,770],"nice":false,"zero":false},"axis":null},
"y":{"field":"y","type":"quantitative","scale":{"domain":[-1,1],"range":[365.5,349.5],"nice":false,"zero":false},"axis":null},
"text":{"field":"t"}}},
{"data":{"name":"gammas"},"transform":[{"filter":"datum.r === 1"}],
"mark":{"type":"text","font":"Times New Roman, Liberation Serif, serif","fontSize":34,"color":"black","align":"center","baseline":"middle"},
"encoding":{"x":{"field":"x","type":"quantitative","scale":{"domain":[0,1],"range":[33,770],"nice":false,"zero":false},"axis":null},
"y":{"field":"y","type":"quantitative","scale":{"domain":[-1,1],"range":[365.5,349.5],"nice":false,"zero":false},"axis":null},
"text":{"field":"t"}}}
]
},
{
"layer": [
{"data":{"name":"arrowline"},"transform":[{"filter":"datum.r === 2"}],
"mark":{"type":"line","color":"black","strokeWidth":2.5,"strokeCap":"butt","strokeJoin":"miter"},
"encoding":{"x":{"field":"x","type":"quantitative","scale":{"domain":[0,1],"range":[38,755],"nice":false,"zero":false},"axis":null},
"y":{"field":"y","type":"quantitative","scale":{"domain":[-1,1],"range":[669,653],"nice":false,"zero":false},"axis":null},
"order":{"field":"o","type":"quantitative"},"detail":{"field":"g"}}},
{"data":{"name":"ticks"},"transform":[{"filter":"datum.r === 2"}],
"mark":{"type":"rule","color":"black","strokeWidth":2},
"encoding":{"x":{"field":"x","type":"quantitative","scale":{"domain":[0,1],"range":[38,755],"nice":false,"zero":false},"axis":null},
"y":{"field":"a","type":"quantitative","scale":{"domain":[-1,1],"range":[669,653],"nice":false,"zero":false},"axis":null},
"y2":{"field":"b"}}},
{"data":{"name":"ticklabels"},"transform":[{"filter":"datum.r === 2"}],
"mark":{"type":"text","font":"Times New Roman, Liberation Serif, serif","fontSize":21,"color":"black","align":"center","baseline":"middle"},
"encoding":{"x":{"field":"x","type":"quantitative","scale":{"domain":[0,1],"range":[38,755],"nice":false,"zero":false},"axis":null},
"y":{"field":"y","type":"quantitative","scale":{"domain":[-1,1],"range":[669,653],"nice":false,"zero":false},"axis":null},
"text":{"field":"t"}}},
{"data":{"name":"gammas"},"transform":[{"filter":"datum.r === 2"}],
"mark":{"type":"text","font":"Times New Roman, Liberation Serif, serif","fontSize":34,"color":"black","align":"center","baseline":"middle"},
"encoding":{"x":{"field":"x","type":"quantitative","scale":{"domain":[0,1],"range":[38,755],"nice":false,"zero":false},"axis":null},
"y":{"field":"y","type":"quantitative","scale":{"domain":[-1,1],"range":[669,653],"nice":false,"zero":false},"axis":null},
"text":{"field":"t"}}}
]
},
{
"layer": [
{"data":{"name":"arrowline"},"transform":[{"filter":"datum.r === 3"}],
"mark":{"type":"line","color":"black","strokeWidth":2.5,"strokeCap":"butt","strokeJoin":"miter"},
"encoding":{"x":{"field":"x","type":"quantitative","scale":{"domain":[0,1],"range":[26,746],"nice":false,"zero":false},"axis":null},
"y":{"field":"y","type":"quantitative","scale":{"domain":[-1,1],"range":[989,973],"nice":false,"zero":false},"axis":null},
"order":{"field":"o","type":"quantitative"},"detail":{"field":"g"}}},
{"data":{"name":"ticks"},"transform":[{"filter":"datum.r === 3"}],
"mark":{"type":"rule","color":"black","strokeWidth":2},
"encoding":{"x":{"field":"x","type":"quantitative","scale":{"domain":[0,1],"range":[26,746],"nice":false,"zero":false},"axis":null},
"y":{"field":"a","type":"quantitative","scale":{"domain":[-1,1],"range":[989,973],"nice":false,"zero":false},"axis":null},
"y2":{"field":"b"}}},
{"data":{"name":"ticklabels"},"transform":[{"filter":"datum.r === 3"}],
"mark":{"type":"text","font":"Times New Roman, Liberation Serif, serif","fontSize":21,"color":"black","align":"center","baseline":"middle"},
"encoding":{"x":{"field":"x","type":"quantitative","scale":{"domain":[0,1],"range":[26,746],"nice":false,"zero":false},"axis":null},
"y":{"field":"y","type":"quantitative","scale":{"domain":[-1,1],"range":[989,973],"nice":false,"zero":false},"axis":null},
"text":{"field":"t"}}},
{"data":{"name":"gammas"},"transform":[{"filter":"datum.r === 3"}],
"mark":{"type":"text","font":"Times New Roman, Liberation Serif, serif","fontSize":34,"color":"black","align":"center","baseline":"middle"},
"encoding":{"x":{"field":"x","type":"quantitative","scale":{"domain":[0,1],"range":[26,746],"nice":false,"zero":false},"axis":null},
"y":{"field":"y","type":"quantitative","scale":{"domain":[-1,1],"range":[989,973],"nice":false,"zero":false},"axis":null},
"text":{"field":"t"}}}
]
}
],
"resolve":{"scale":{"x":"independent","y":"independent"},"axis":{"x":"independent","y":"independent"}}
}
